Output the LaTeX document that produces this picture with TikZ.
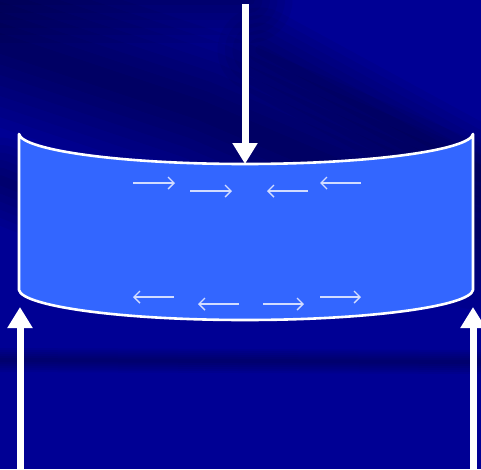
\documentclass[tikz,border=0pt]{standalone}
\usetikzlibrary{arrows.meta}
\definecolor{bgblue}{RGB}{0,0,148}
\definecolor{slabblue}{RGB}{51,102,255}
\definecolor{stressline}{RGB}{210,220,255}
\tikzset{
  bigarrow/.style={white,line width=7pt,-{Triangle[width=24pt,length=21pt]}},
  stressarrow/.style={stressline,line width=1.4pt,-{Straight Barb[length=6pt,width=12pt]}},
  slab/.style={fill=slabblue,draw=white,line width=2.6pt,line join=round},
  softband/.style={draw=black,opacity=.045,line cap=round},
}
\begin{document}
\begin{tikzpicture}[x=1pt,y=-1pt]
\useasboundingbox (0,0) rectangle (481,469);
\clip (0,0) rectangle (481,469);
% background
\fill[bgblue] (0,0) rectangle (481,469);
\foreach \w in {20,40,...,160} {
  \draw[softband,line width=\w pt] (-40,30) -- (200,110) -- (481,230);
}
\foreach \w in {10,25,...,85} {
  \draw[softband,line width=\w pt] (260,50) -- (481,170);
  \draw[softband,line width=\w pt] (-20,0) -- (250,0);
  \draw[softband,line width=\w pt] (0,180) -- (150,240);
}
\foreach \w in {4,8,...,24} {
  \draw[softband,line width=\w pt] (0,360) -- (481,362);
}
% named points
\coordinate (TL) at (19,134);
\coordinate (TR) at (473,134);
\coordinate (BL) at (19,290);
\coordinate (BR) at (473,290);
\coordinate (TM) at (245,164);
\coordinate (BM) at (245,320);
% slab
\path[slab] (BL) -- (TL) .. controls (22,150) and (120,164) .. (TM)
  .. controls (370,164) and (470,150) .. (TR) -- (BR)
  .. controls (470,306) and (370,320) .. (BM)
  .. controls (120,320) and (22,306) .. (BL) -- cycle;
% load and supports
\coordinate (loadstart) at (245,4);
\coordinate (lsupstart) at (20,475);
\coordinate (lsuptip) at (20,307);
\coordinate (rsupstart) at (473,475);
\coordinate (rsuptip) at (473,307);
\draw[bigarrow] (loadstart) -- (TM);
\draw[bigarrow] (lsupstart) -- (lsuptip);
\draw[bigarrow] (rsupstart) -- (rsuptip);
% compression arrows (top)
\coordinate (a1s) at (133,183); \coordinate (a1e) at (175,183);
\coordinate (a2s) at (190,191); \coordinate (a2e) at (232,191);
\coordinate (a3s) at (308,191); \coordinate (a3e) at (267,191);
\coordinate (a4s) at (361,183); \coordinate (a4e) at (320,183);
\draw[stressarrow] (a1s) -- (a1e);
\draw[stressarrow] (a2s) -- (a2e);
\draw[stressarrow] (a3s) -- (a3e);
\draw[stressarrow] (a4s) -- (a4e);
% tension arrows (bottom)
\coordinate (b1s) at (174,297); \coordinate (b1e) at (133,297);
\coordinate (b2s) at (239,304); \coordinate (b2e) at (198,304);
\coordinate (b3s) at (263,304); \coordinate (b3e) at (304,304);
\coordinate (b4s) at (320,297); \coordinate (b4e) at (361,297);
\draw[stressarrow] (b1s) -- (b1e);
\draw[stressarrow] (b2s) -- (b2e);
\draw[stressarrow] (b3s) -- (b3e);
\draw[stressarrow] (b4s) -- (b4e);
\end{tikzpicture}
\end{document}
